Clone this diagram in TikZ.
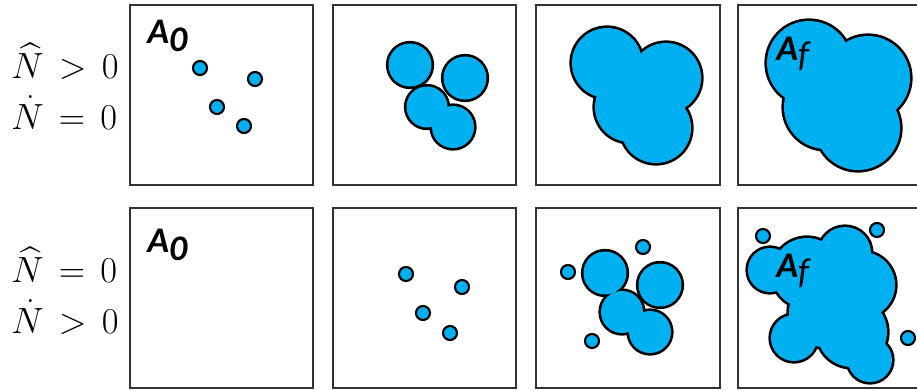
\documentclass[tikz,border=0pt]{standalone}
\usepackage{amsmath}
\usepackage{fontspec}
\setsansfont{Carlito}
\usepackage{xcolor}
\usepackage{tikz}

\definecolor{grainblue}{RGB}{0,176,240}
\thickmuskip=7.5mu plus 2mu

% grown grains: thick outline first, then the fill hides the inner arcs
\newcommand{\grainblob}[1]{%
  \foreach \gx/\gy/\gr in {#1} \draw[line width=3pt] (\gx,\gy) circle (\gr);
  \foreach \gx/\gy/\gr in {#1} \fill[grainblue] (\gx,\gy) circle (\gr);}

\begin{document}
\begin{tikzpicture}[x=0.02cm,y=-0.02cm,
    frame/.style={draw=black!80,line width=1.1pt},
    seed/.style={draw=black,line width=1.2pt,fill=grainblue},
    rowlabel/.style={anchor=base west,inner sep=0pt,align=left,
      font=\fontsize{22}{28.6}\selectfont},
    area/.style={anchor=base west,inner sep=0pt,font=\sffamily\fontsize{20.5}{22}\selectfont}]
  \clip (0,0) rectangle (917,390);
  \foreach \y in {5,208}
    \foreach \x/\w in {130/183,333/183,536/184,738/200}
      \draw[frame] (\x,\y) rectangle ++(\w,180);

  % top row (base anchor sits on the lower line)
  \node[rowlabel] (cond1) at (11,129) {$\widehat{N} > 0$\\$\dot{N} = 0$};
  \node[area] (azero1) at (147,43) {\textbf{\textit{A}}\raisebox{-5pt}{\textbf{\textit{0}}}};
  \foreach \x/\y in {200/68,255/79,217/107,244/126}
    \draw[seed] (\x,\y) circle (7);
  \grainblob{410/65/21.5,465/78/21.5,427/107/20.5,453/127/21}
  \grainblob{607/63/35,666/78/35,630/107/35,656/128/35}
  \grainblob{809/63/42,868/78/42,826/107/42,858/128/42}
  \node[area] (afin1) at (776,60) {\textbf{\textit{A}}\raisebox{-3.5pt}{\textit{f}}};

  % bottom row
  \node[rowlabel] (cond2) at (11,333) {$\widehat{N} = 0$\\$\dot{N} > 0$};
  \node[area] (azero2) at (147,252) {\textbf{\textit{A}}\raisebox{-5pt}{\textbf{\textit{0}}}};
  \foreach \x/\y in {406/274,462/287,423/313,450/333,643/247,568/272,592/341,763/236,877/230,908/338}
    \draw[seed] (\x,\y) circle (7);
  \grainblob{605/273/21.5,660/285/21.5,622/312/21,650/332/21}
  \grainblob{807/273/35,862/285/33,824/312/35,852/332/35,845/253/26,770/270/22,794/338/23,870/360/22}
  \node[area] (afin2) at (776,277) {\textbf{\textit{A}}\raisebox{-3.5pt}{\textit{f}}};
\end{tikzpicture}
\end{document}
